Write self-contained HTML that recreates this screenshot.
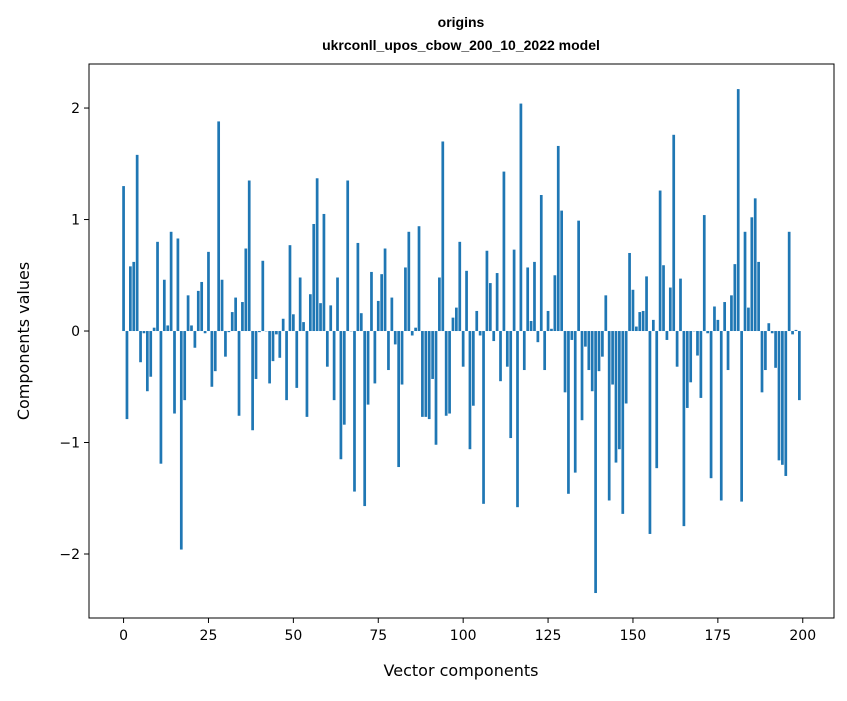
<!DOCTYPE html>
<html><head><meta charset="utf-8"><style>
body{margin:0;background:#fff;}
svg text{font-family:"DejaVu Sans","Liberation Sans",sans-serif;fill:#000;}
</style></head><body>
<svg id="chart" width="847" height="696" viewBox="0 0 847 696" xmlns="http://www.w3.org/2000/svg">
<rect width="847" height="696" fill="#fff"/>
<text x="461" y="27" text-anchor="middle" font-size="14" font-weight="bold" style="font-family:'Liberation Sans',sans-serif">origins</text>
<text x="461" y="50" text-anchor="middle" font-size="14" font-weight="bold" style="font-family:'Liberation Sans',sans-serif">ukrconll_upos_cbow_200_10_2022 model</text>
<g id="bars"></g>
<g id="xticks"></g>
<g id="yticks"></g>
<rect x="89" y="64" width="745" height="554" fill="none" stroke="#000" stroke-width="1"/>
<text x="461" y="676" text-anchor="middle" font-size="16">Vector components</text>
<text transform="translate(29,341) rotate(-90)" text-anchor="middle" font-size="16">Components values</text>
</svg>
<script>
const values = [1.30,-0.79,0.58,0.62,1.58,-0.28,-0.02,-0.54,-0.41,0.03,
0.80,-1.19,0.46,0.05,0.89,-0.74,0.83,-1.96,-0.62,0.32,
0.05,-0.15,0.36,0.44,-0.02,0.71,-0.50,-0.36,1.88,0.46,
-0.23,-0.01,0.17,0.30,-0.76,0.26,0.74,1.35,-0.89,-0.43,
-0.01,0.63,0.00,-0.47,-0.27,-0.03,-0.24,0.11,-0.62,0.77,
0.15,-0.51,0.48,0.08,-0.77,0.33,0.96,1.37,0.25,1.05,
-0.32,0.23,-0.62,0.48,-1.15,-0.84,1.35,0.00,-1.44,0.79,
0.16,-1.57,-0.66,0.53,-0.47,0.27,0.51,0.74,-0.35,0.30,
-0.12,-1.22,-0.48,0.57,0.89,-0.04,0.03,0.94,-0.77,-0.77,
-0.79,-0.43,-1.02,0.48,1.70,-0.76,-0.74,0.12,0.21,0.80,
-0.32,0.54,-1.06,-0.67,0.18,-0.04,-1.55,0.72,0.43,-0.09,
0.52,-0.45,1.43,-0.32,-0.96,0.73,-1.58,2.04,-0.35,0.57,
0.09,0.62,-0.10,1.22,-0.35,0.18,0.02,0.50,1.66,1.08,
-0.55,-1.46,-0.08,-1.27,0.99,-0.80,-0.14,-0.35,-0.54,-2.35,
-0.36,-0.23,0.32,-1.52,-0.48,-1.18,-1.06,-1.64,-0.65,0.70,
0.37,0.04,0.17,0.18,0.49,-1.82,0.10,-1.23,1.26,0.59,
-0.08,0.39,1.76,-0.32,0.47,-1.75,-0.69,-0.46,0.00,-0.22,
-0.60,1.04,-0.02,-1.32,0.22,0.10,-1.52,0.26,-0.35,0.32,
0.60,2.17,-1.53,0.89,0.21,1.02,1.19,0.62,-0.55,-0.35,
0.07,-0.02,-0.33,-1.16,-1.20,-1.30,0.89,-0.03,0.01,-0.62];
const xTicks = [0,25,50,75,100,125,150,175,200];
const yTicks = [-2,-1,0,1,2];
const X0=89,X1=834,Y0=64,Y1=618;
const xMin=-10.18,xMax=209.2,yMin=-2.574,yMax=2.395;
const xs=v=>X0+(v-xMin)/(xMax-xMin)*(X1-X0);
const ys=v=>Y1-(v-yMin)/(yMax-yMin)*(Y1-Y0);
const NS="http://www.w3.org/2000/svg";
const bars=document.getElementById('bars');
values.forEach((v,i)=>{
  const r=document.createElementNS(NS,'rect');
  const x=xs(i-0.4), w=xs(i+0.4)-x;
  const y=Math.min(ys(v),ys(0)), h=Math.abs(ys(v)-ys(0));
  r.setAttribute('x',x);r.setAttribute('y',y);r.setAttribute('width',w);r.setAttribute('height',Math.max(h,0.3));
  r.setAttribute('fill','#1f77b4');
  
  
  bars.appendChild(r);
});
const xg=document.getElementById('xticks');
xTicks.forEach(t=>{
  const l=document.createElementNS(NS,'line');
  l.setAttribute('x1',xs(t));l.setAttribute('x2',xs(t));l.setAttribute('y1',Y1);l.setAttribute('y2',Y1+5);l.setAttribute('stroke','#000');
  
  
  xg.appendChild(l);
  const tx=document.createElementNS(NS,'text');
  tx.setAttribute('x',xs(t));tx.setAttribute('y',Y1+22);tx.setAttribute('text-anchor','middle');tx.setAttribute('font-size','14');
  tx.textContent=t;
  
  
  xg.appendChild(tx);
});
const yg=document.getElementById('yticks');
yTicks.forEach(t=>{
  const l=document.createElementNS(NS,'line');
  l.setAttribute('x1',X0-5);l.setAttribute('x2',X0);l.setAttribute('y1',ys(t));l.setAttribute('y2',ys(t));l.setAttribute('stroke','#000');
  
  
  yg.appendChild(l);
  const tx=document.createElementNS(NS,'text');
  tx.setAttribute('x',X0-9);tx.setAttribute('y',ys(t)+5);tx.setAttribute('text-anchor','end');tx.setAttribute('font-size','14');
  tx.textContent=t<0?'\u2212'+Math.abs(t):String(t);
  
  
  yg.appendChild(tx);
});
</script>
</body></html>
